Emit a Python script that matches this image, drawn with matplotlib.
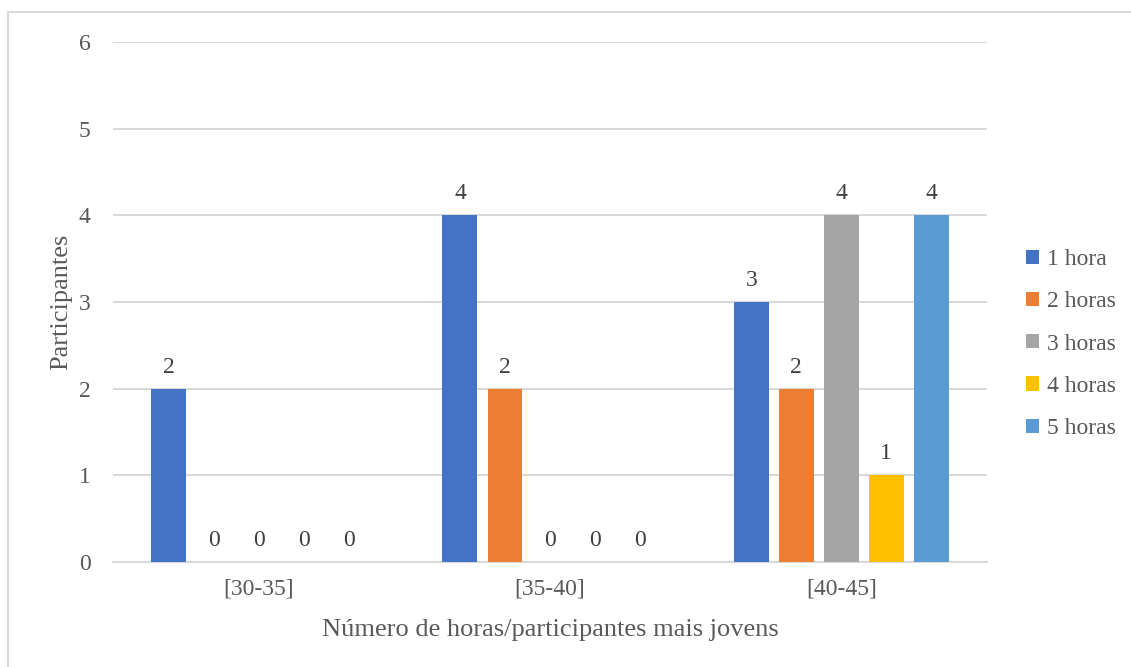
"""
Participantes por número de horas (participantes mais jovens)
"""

import matplotlib.pyplot as plt
import numpy as np
from matplotlib.patches import Rectangle

# Data
categories = ['[30-35]', '[35-40]', '[40-45]']
series_names = ['1 hora', '2 horas', '3 horas', '4 horas', '5 horas']
values = {
    '1 hora': [2, 4, 3],
    '2 horas': [0, 2, 2],
    '3 horas': [0, 0, 4],
    '4 horas': [0, 0, 1],
    '5 horas': [0, 0, 4],
}
colors = ['#4472C4', '#ED7D31', '#A5A5A5', '#FFC000', '#5B9BD5']

plt.rcParams['font.family'] = ['Liberation Serif', 'DejaVu Serif']
text_color = '#595959'
grid_color = '#D9D9D9'

fig = plt.figure(figsize=(11.31, 6.67), dpi=100)
ax = fig.add_axes([113 / 1131, 1 - 562 / 667, (987 - 113) / 1131, (562 - 42) / 667])

# Outer chart frame (only top and left edges fall inside the image)
fig.patches.append(Rectangle((8 / 1131, -0.1), 1.2, 1 - 12 / 667 + 0.1,
                             transform=fig.transFigure, fill=False,
                             edgecolor=grid_color, linewidth=1.5))

x = np.arange(len(categories))
bar_w = 0.12
step = 0.1545
for i, name in enumerate(series_names):
    offs = (i - 2) * step
    bars = ax.bar(x + offs, values[name], width=bar_w, color=colors[i],
                  label=name, zorder=3)
    ax.bar_label(bars, padding=8, fontsize=17, color='#404040')

ax.set_xlim(-0.5, 2.5)
ax.set_ylim(0, 6)
ax.set_yticks(range(7))
ax.set_xticks(x)
ax.set_xticklabels(categories)
ax.tick_params(axis='both', length=0, labelsize=17, colors=text_color)
ax.tick_params(axis='y', pad=16)
ax.tick_params(axis='x', pad=12)
ax.grid(axis='y', color=grid_color, linewidth=1.5, zorder=0)
for s in ['top', 'right', 'left']:
    ax.spines[s].set_visible(False)
ax.spines['bottom'].set_color(grid_color)
ax.spines['bottom'].set_linewidth(1.5)

ax.set_xlabel('Número de horas/participantes mais jovens', fontsize=19,
              color=text_color, labelpad=14)
ax.set_ylabel('Participantes', fontsize=19, color=text_color, labelpad=5)

ax.legend(loc='center left', bbox_to_anchor=(1.02, 0.419), frameon=False,
          fontsize=17, labelcolor=text_color, handlelength=0.55,
          handleheight=0.55, handletextpad=0.35, labelspacing=0.9)

plt.savefig('out.png', dpi=100)
